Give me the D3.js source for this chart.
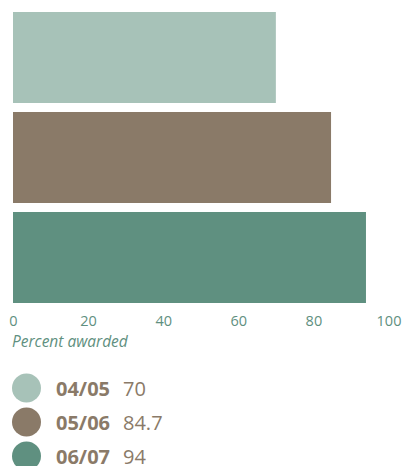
<!DOCTYPE html>
<html>
<head>
<meta charset="utf-8">
<script src="https://cdn.jsdelivr.net/npm/d3@7"></script>
<style>
  body { margin: 0; background: #fff; }
  svg { display: block; font-family: "Open Sans", sans-serif; }
</style>
</head>
<body>
<div id="chart"></div>
<script>
// 資料
const years = ["04/05", "05/06", "06/07"];
const awarded = [70, 84.7, 94];
const colors = ["#a7c2b8", "#8a7a68", "#5f9080"];
const ticks = [0, 20, 40, 60, 80, 100];

const width = 403, height = 466;
const textBrown = "#8a7a68";
const teal = "#5f9080";

const svg = d3.select("#chart").append("svg")
  .attr("width", width)
  .attr("height", height);

const x = d3.scaleLinear()
  .domain([0, 100])
  .range([13, 388.5]);

const y = d3.scaleBand()
  .domain(years)
  .range([7.5, 307.5])
  .paddingInner(0.09)
  .paddingOuter(0.045);

// 長條
svg.append("g")
  .selectAll("rect")
  .data(years)
  .join("rect")
  .attr("x", x(0))
  .attr("y", d => y(d))
  .attr("width", (d, i) => x(awarded[i]) - x(0))
  .attr("height", y.bandwidth())
  .attr("fill", (d, i) => colors[i]);

// x 軸 只留文字
svg.append("g")
  .attr("transform", "translate(0,316)")
  .call(d3.axisBottom(x).tickValues(ticks).tickSize(0).tickPadding(0))
  .call(g => g.select(".domain").remove())
  .selectAll("text")
  .attr("fill", teal)
  .attr("font-size", 14.5)
  .attr("font-family", "'Open Sans', sans-serif");

svg.append("text")
  .attr("x", 12)
  .attr("y", 347)
  .attr("fill", teal)
  .attr("font-size", 15.5)
  .attr("font-style", "italic")
  .text("Percent awarded");

// 圖例
const legend = svg.append("g")
  .selectAll("g")
  .data(years)
  .join("g")
  .attr("transform", (d, i) => `translate(0,${388 + i * 34})`);

legend.append("circle")
  .attr("cx", 26.5)
  .attr("cy", 0)
  .attr("r", 14.5)
  .attr("fill", (d, i) => colors[i]);

legend.append("text")
  .attr("x", 56)
  .attr("y", 8)
  .attr("fill", textBrown)
  .attr("font-size", 20)
  .attr("font-weight", "bold")
  .text(d => d);

legend.append("text")
  .attr("x", 123)
  .attr("y", 8)
  .attr("fill", textBrown)
  .attr("font-size", 20)
  .text((d, i) => awarded[i]);
</script>
</body>
</html>
